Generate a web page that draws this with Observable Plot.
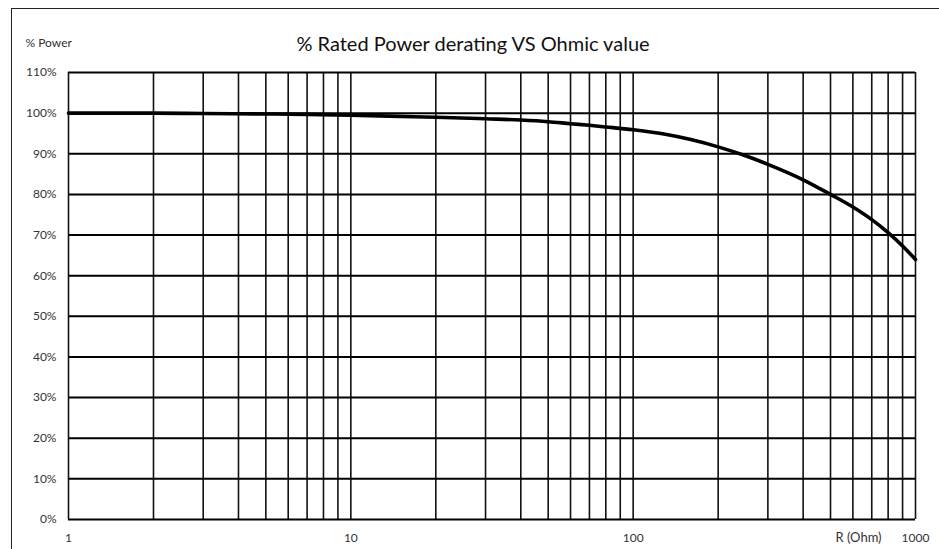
<!DOCTYPE html>
<html>
<head>
<meta charset="utf-8">
<script src="https://cdn.jsdelivr.net/npm/d3@7"></script>
<script src="https://cdn.jsdelivr.net/npm/@observablehq/plot@0.6"></script>
<style>
  html, body { margin: 0; padding: 0; background: #fff; overflow: hidden; }
  #wrap { position: relative; width: 939px; height: 549px; }
  #border { position: absolute; left: 11px; top: 8px; width: 1000px; height: 1000px; border: 1px solid #222; pointer-events: none; }
  svg { font-family: Lato, "Open Sans", sans-serif; }
</style>
</head>
<body>
<div id="wrap"><div id="border"></div></div>
<script>
const resistance = [1, 2, 3, 5, 7, 10, 15, 20, 30, 40, 50, 60, 70, 80, 100, 130, 160, 200, 250, 300, 400, 500, 600, 700, 800, 900, 1000];
const powerPct   = [100, 100, 99.9, 99.8, 99.7, 99.5, 99.2, 99.0, 98.6, 98.3, 97.9, 97.4, 97.0, 96.6, 95.9, 94.8, 93.5, 91.7, 89.5, 87.4, 83.6, 80.0, 76.9, 73.8, 70.6, 67.3, 64.0];
const xGrid = [1,2,3,4,5,6,7,8,9,10,20,30,40,50,60,70,80,90,100,200,300,400,500,600,700,800,900,1000];
const xTicks = [1, 10, 100, 1000];
const yTicks = [0, 10, 20, 30, 40, 50, 60, 70, 80, 90, 100, 110];
const title = "% Rated Power derating VS Ohmic value";
const yLabel = "% Power";
const xLabel = "R (Ohm)";

const curve = resistance.map((r, i) => ({r, p: powerPct[i]}));

const chart = Plot.plot({
  width: 939,
  height: 549,
  marginLeft: 68,
  marginRight: 24,
  marginTop: 72,
  marginBottom: 30,
  style: {fontFamily: "Lato, 'Open Sans', sans-serif", background: "transparent"},
  x: {type: "log", domain: [1, 1000], label: null},
  y: {domain: [0, 110], label: null},
  marks: [
    Plot.ruleX(xGrid, {stroke: "#111", strokeWidth: 1.6}),
    Plot.ruleY(yTicks, {stroke: "#000", strokeWidth: 2}),
    Plot.line(curve, {x: "r", y: "p", stroke: "#000", strokeWidth: 3.6, curve: "monotone-x"}),
    Plot.axisX({ticks: xTicks, tickFormat: d => String(d), tickSize: 0, tickPadding: 14, fontSize: 12, fill: "#333", label: null}),
    Plot.axisY({ticks: yTicks, tickFormat: d => d + "%", tickSize: 0, tickPadding: 12, fontSize: 12, fill: "#333", label: null}),
    Plot.text([title], {frameAnchor: "top", dy: -36, dx: -19, fontSize: 20, fill: "#111"}),
    Plot.text([yLabel], {frameAnchor: "top-left", dx: -43, dy: -34, fontSize: 12, fill: "#333", textAnchor: "start"}),
    Plot.text([xLabel], {frameAnchor: "bottom-right", dx: -57, dy: 22, fontSize: 13, fill: "#333", textAnchor: "middle"})
  ]
});
document.getElementById("wrap").prepend(chart);
chart.style.position = "absolute";
chart.style.left = "0";
chart.style.top = "0";
</script>
</body>
</html>
